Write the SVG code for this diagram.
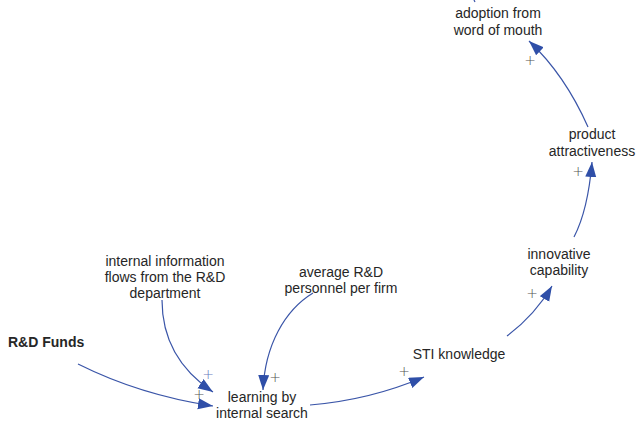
<svg xmlns="http://www.w3.org/2000/svg" width="640" height="424" viewBox="0 0 640 424">
  <style>
    .lbl { font-family: "Liberation Sans", Arial, sans-serif; font-size: 14px; fill: #262626; text-anchor: middle; }
    .bold { font-weight: bold; text-anchor: start; }
    .pol { font-family: "DejaVu Sans", sans-serif; font-weight: 200; font-size: 14px; fill: #555; text-anchor: middle; }
    .link { fill: none; stroke: #3a55a8; stroke-width: 1.2; marker-end: url(#head); }
  </style>
  <defs>
    <marker id="head" markerUnits="userSpaceOnUse" markerWidth="16" markerHeight="12" refX="15" refY="5.5" orient="auto">
      <path d="M0,0 L15,5.5 L0,11 Z" fill="#2f4fa8"/>
    </marker>
  </defs>

  <rect width="640" height="424" fill="#ffffff"/>

  <!-- causal links -->
  <g id="connectors">
    <path d="M474,0 L475,2" fill="none" stroke="#3a55a8" stroke-width="1.2"/>
    <path class="link" d="M588,127 Q565,75 529,41"/>
    <path class="link" d="M574,237 Q588,210 592,162"/>
    <path class="link" d="M507,336 Q535,315 552,286"/>
    <path class="link" d="M310,405 Q370,400 424,377"/>
    <path class="link" d="M78,364 Q140,395 213,406"/>
    <path class="link" d="M162,300 C162,340 180,370 213,392"/>
    <path class="link" d="M313,293 C285,310 265,345 263,390"/>
  </g>

  <!-- polarity signs -->
  <g id="polarities">
    <text class="pol" x="530" y="65">+</text>
    <text class="pol" x="578" y="176">+</text>
    <text class="pol" x="532" y="298">+</text>
    <text class="pol" x="404" y="376">+</text>
    <text class="pol" x="208" y="379" style="fill:#6a7cc0">+</text>
    <text class="pol" x="199" y="399">+</text>
    <text class="pol" x="275" y="382">+</text>
  </g>

  <!-- variables -->
  <g id="adoption">
    <text class="lbl" x="498" y="18">adoption from</text>
    <text class="lbl" x="498" y="35">word of mouth</text>
  </g>
  <g id="product-attractiveness">
    <text class="lbl" x="592" y="139">product</text>
    <text class="lbl" x="592" y="156">attractiveness</text>
  </g>
  <g id="innovative-capability">
    <text class="lbl" x="559" y="259">innovative</text>
    <text class="lbl" x="559" y="275">capability</text>
  </g>
  <g id="sti-knowledge">
    <text class="lbl" x="459" y="359">STI knowledge</text>
  </g>
  <g id="learning">
    <text class="lbl" x="262" y="402">learning by</text>
    <text class="lbl" x="262" y="418">internal search</text>
  </g>
  <g id="rd-funds">
    <text class="lbl bold" x="8" y="347">R&amp;D Funds</text>
  </g>
  <g id="internal-flows">
    <text class="lbl" x="165" y="266">internal information</text>
    <text class="lbl" x="165" y="282">flows from the R&amp;D</text>
    <text class="lbl" x="165" y="298">department</text>
  </g>
  <g id="avg-personnel">
    <text class="lbl" x="341" y="277">average R&amp;D</text>
    <text class="lbl" x="341" y="293">personnel per firm</text>
  </g>
</svg>
